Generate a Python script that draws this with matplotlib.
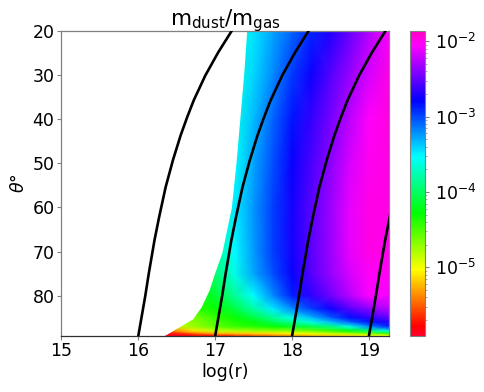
import numpy as np
import matplotlib
matplotlib.use('Agg')
import matplotlib.pyplot as plt
from matplotlib.colors import LogNorm

# log10(mdust/mgas), rows=theta, cols=log r
logr_cols = [16.3, 16.7, 17.0, 17.25, 17.5, 17.75, 18.0, 18.25, 18.5, 18.75, 19.0, 19.27]
theta_rows = [20, 30, 40, 50, 60, 70, 75, 80, 83, 85, 86, 87, 88, 88.6, 89]
log_ratio = [
    [-4.4, -4.2, -4.0, -3.66, -3.46, -3.27, -3.09, -2.90, -2.71, -2.50, -2.28, -2.06],
    [-4.4, -4.2, -3.95, -3.62, -3.41, -3.19, -2.96, -2.75, -2.55, -2.36, -2.16, -1.98],
    [-4.4, -4.2, -3.9, -3.59, -3.34, -3.08, -2.85, -2.64, -2.45, -2.24, -2.04, -1.96],
    [-4.4, -4.1, -3.8, -3.54, -3.27, -3.02, -2.76, -2.57, -2.38, -2.17, -2.00, -1.97],
    [-4.4, -4.0, -3.74, -3.48, -3.22, -2.98, -2.73, -2.53, -2.34, -2.12, -1.98, -1.98],
    [-4.4, -4.1, -3.85, -3.52, -3.24, -2.98, -2.74, -2.53, -2.34, -2.12, -1.98, -2.00],
    [-4.5, -4.3, -3.95, -3.60, -3.28, -3.02, -2.76, -2.55, -2.36, -2.16, -2.02, -2.02],
    [-4.5, -4.3, -4.15, -3.85, -3.53, -3.20, -2.88, -2.66, -2.46, -2.26, -2.05, -2.08],
    [-4.6, -4.45, -4.3, -4.10, -3.80, -3.48, -3.20, -2.97, -2.75, -2.55, -2.38, -2.25],
    [-4.8, -4.65, -4.45, -4.30, -4.10, -3.85, -3.60, -3.33, -3.07, -2.83, -2.65, -2.50],
    [-4.85, -4.7, -4.5, -4.38, -4.25, -4.05, -3.85, -3.62, -3.35, -3.08, -2.85, -2.68],
    [-5.0, -4.75, -4.55, -4.45, -4.38, -4.30, -4.17, -4.07, -3.90, -3.60, -3.20, -2.88],
    [-5.6, -5.1, -4.85, -4.80, -4.75, -4.72, -4.70, -4.60, -4.45, -4.25, -3.95, -3.55],
    [-5.8, -5.5, -5.25, -5.2, -5.15, -5.1, -5.0, -4.95, -4.85, -4.75, -4.6, -4.35],
    [-5.9, -5.8, -5.7, -5.6, -5.5, -5.4, -5.3, -5.2, -5.15, -5.1, -5.05, -5.0],
]

# left limit of the coloured region
edge_theta = [20, 30, 40, 50, 60, 70, 75, 78.7, 82.4, 85.1, 88.7, 89]
edge_logr = [17.40, 17.36, 17.31, 17.26, 17.20, 17.08, 16.98, 16.91, 16.81, 16.70, 16.35, 16.31]

# black curves
curve_theta = [20.2, 24.9, 30.2, 35.8, 39.6, 43.7, 49.3, 55.4, 62.2, 67.4, 75, 80, 85, 89]
curve_a = [17.21, 17.04, 16.87, 16.72, 16.635, 16.55, 16.45, 16.355, 16.27, 16.21, 16.135, 16.09, 16.04, 16.00]
curve_b = [18.21, 18.04, 17.87, 17.72, 17.635, 17.55, 17.45, 17.355, 17.27, 17.21, 17.135, 17.09, 17.04, 17.00]
curve_c = [19.21, 19.04, 18.87, 18.72, 18.635, 18.55, 18.45, 18.355, 18.27, 18.21, 18.135, 18.09, 18.04, 18.00]
curve_d_theta = [61, 62.2, 67.4, 75, 80, 85, 89]
curve_d = [19.28, 19.27, 19.21, 19.135, 19.09, 19.04, 19.00]

vmin = 1.24e-6
vmax = 1.39e-2
W, H = 485, 392
gray = '#808080'

fig = plt.figure(figsize=(W/100, H/100), dpi=100)
ax = fig.add_axes([61.5/W, 1-335.5/H, 327.5/W, 305/H])
cax = fig.add_axes([410/W, 1-335.5/H, 15/W, 305/H])

X, Y = np.meshgrid(logr_cols, theta_rows)
C = 10.0**np.array(log_ratio)
mesh = ax.pcolormesh(X, Y, C, shading='gouraud', cmap='gist_rainbow',
                     norm=LogNorm(vmin=vmin, vmax=vmax), zorder=1)
ax.fill_betweenx(edge_theta, 15, edge_logr, facecolor='white', edgecolor='white', lw=1, zorder=2)

for cx, cy in [(curve_a, curve_theta), (curve_b, curve_theta),
               (curve_c, curve_theta), (curve_d, curve_d_theta)]:
    ax.plot(cx, cy, color='k', lw=1.9, zorder=3)

ax.set_xlim(15, 19.26)
ax.set_ylim(89, 20)
ax.set_xticks([15, 16, 17, 18, 19])
ax.set_yticks([20, 30, 40, 50, 60, 70, 80])
ax.tick_params(labelsize=12.5, width=0.8, length=3, pad=2, color=gray)
for s in ax.spines.values():
    s.set_linewidth(0.9)
    s.set_color(gray)
ax.spines['bottom'].set_color('#303030')
ax.set_xlabel('log(r)', fontsize=12.5, labelpad=2)
ax.set_ylabel(r'$\theta°$', fontsize=12.5, labelpad=3)
# y given so the title may sit on the top spine like in the reference
ax.set_title(r'$\mathrm{m_{dust}/m_{gas}}$', fontsize=15.5, y=1.0, pad=4)

cb = fig.colorbar(mesh, cax=cax)
cb.ax.tick_params(labelsize=12.5, width=0.8, length=3, pad=4, color=gray)
cb.ax.tick_params(which='minor', width=0.5, length=1.5, color=gray)
cb.outline.set_linewidth(0.8)
cb.outline.set_edgecolor(gray)

plt.savefig('out.png', dpi=100)
